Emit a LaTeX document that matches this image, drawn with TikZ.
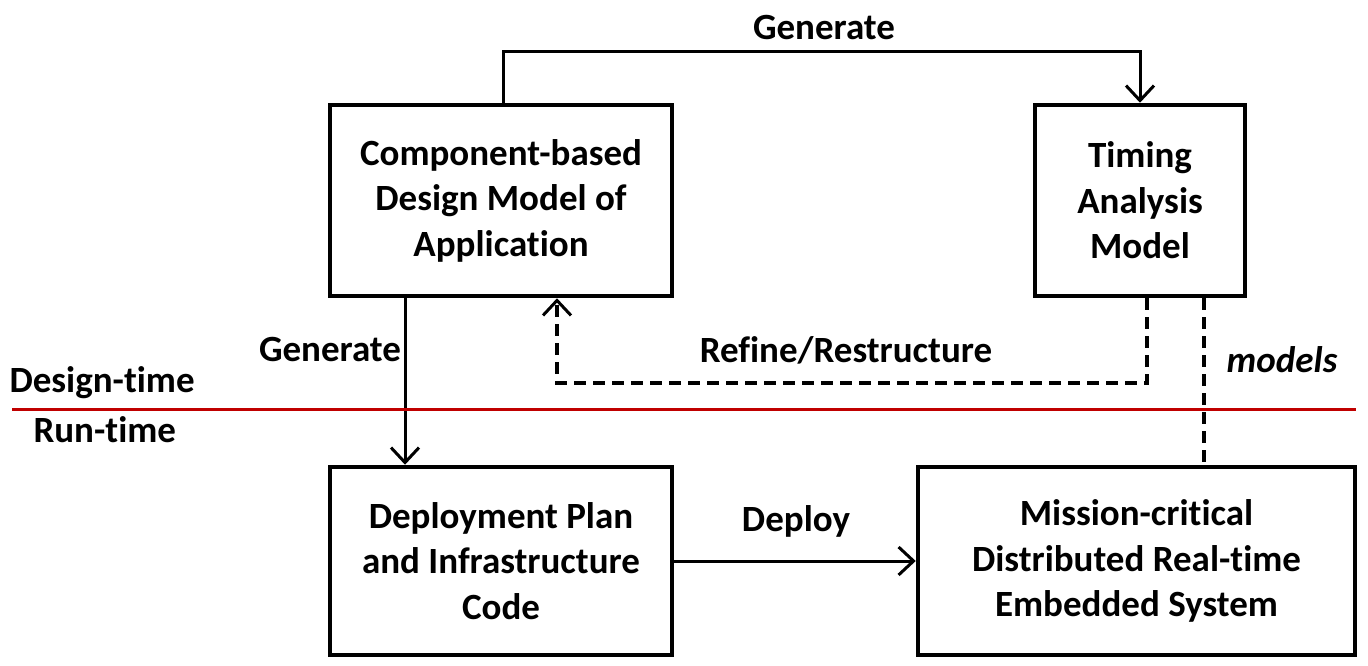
\documentclass[tikz,border=0pt]{standalone}
\usepackage{fontspec}
\setmainfont{Carlito}[Ligatures=NoCommon]
\usetikzlibrary{arrows.meta}
\begin{document}
\begin{tikzpicture}[x=1pt,y=-1pt,
  box/.style={draw,line width=4.5pt,inner sep=0pt},
  lbl/.style={font=\fontsize{37}{45.5}\selectfont\bfseries,align=center},
  dconn/.style={line width=3.2pt,dash pattern=on 12pt off 7pt},
  >={Straight Barb[length=15pt,width=28pt,line width=3pt]}]
\useasboundingbox (0,0) rectangle (1368,666);
\node[box,minimum width=342pt,minimum height=191pt] (cbd) at (501,200.5) {};
\node[lbl] at (cbd) {Component-based\\Design Model of\\Application};
\node[box,minimum width=210pt,minimum height=191pt] (tam) at (1140,200.5) {};
\node[lbl] at (tam) {Timing\\Analysis\\Model};
\node[box,minimum width=342pt,minimum height=188pt] (dep) at (501,561) {};
\node[lbl] at (dep) {Deployment Plan\\and Infrastructure\\Code};
\node[box,minimum width=437pt,minimum height=188pt] (mis) at (1136.5,561) {};
\node[lbl] at (mis) {Mission-critical\\Distributed Real-time\\Embedded System};
\coordinate (g1) at (503,52);
\coordinate (g2) at (1140,52);
\draw[line width=3pt,->] (cbd.north -| g1) -- (g1) -- (g2) -- (tam.north -| g2);
\node[lbl] (genT) at (824,28) {Generate};
\draw[line width=3pt,->] (cbd.south -| 405,0) -- (dep.north -| 405,0);
\node[lbl] (genL) at (330,350) {Generate};
\coordinate (r1) at (1147,383);
\coordinate (r2) at (557,383);
\draw[dconn,->] (tam.south -| r1) -- (r1) -- (r2) -- (cbd.south -| r2);
\node[lbl] (ref) at (846,350) {Refine/Restructure};
\draw[dconn] (tam.south -| 1204,0) -- (mis.north -| 1204,0);
\node[lbl,font=\fontsize{37}{45.5}\selectfont\bfseries\itshape] (mod) at (1282,360) {models};
\draw[line width=3pt,color={rgb,255:red,192;green,0;blue,0}] (12,409) -- (1356,409);
\node[lbl,anchor=west] (dt) at (6,383) {Design-time};
\node[lbl,anchor=west] (rt) at (30,430) {Run-time};
\draw[line width=3pt,->] (dep.east) -- (mis.west);
\node[lbl] (dpl) at (796,521) {Deploy};
\end{tikzpicture}
\end{document}
